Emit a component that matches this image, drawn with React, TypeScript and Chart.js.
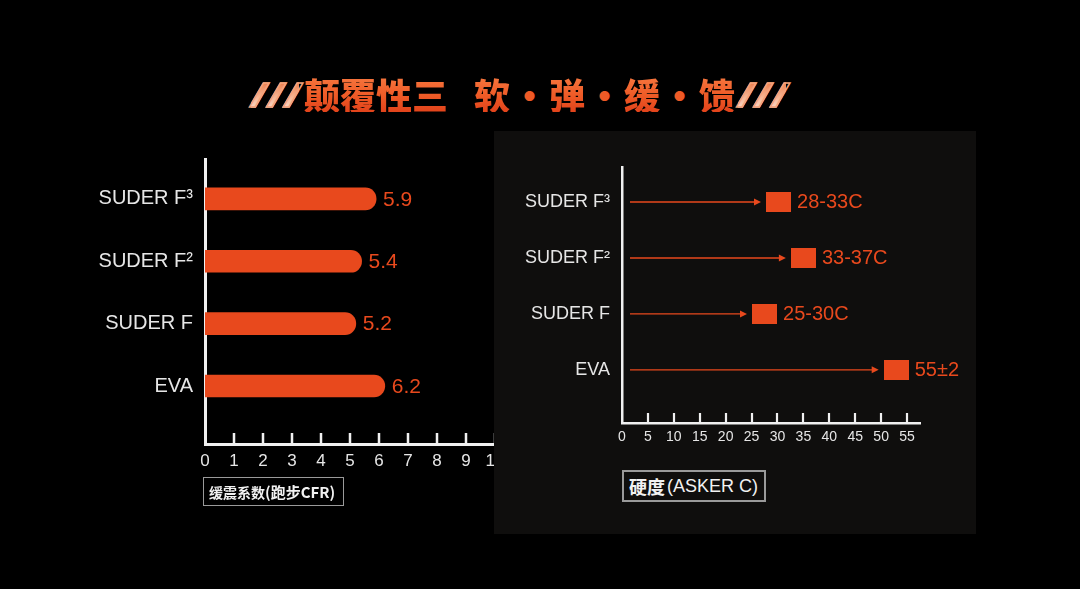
import React, { useEffect, useRef } from "react";
import { Chart, registerables } from "chart.js";

Chart.register(...registerables);

// ---------- data ----------
const cfrCategories = ["SUDER F³", "SUDER F²", "SUDER F", "EVA"];
const cfrValues = [5.9, 5.4, 5.2, 6.2];
const cfrTicks = [0, 1, 2, 3, 4, 5, 6, 7, 8, 9, 10];

const hardCategories = ["SUDER F³", "SUDER F²", "SUDER F", "EVA"];
const hardValues = [30.2, 35, 27.5, 52.9];
const hardLabels = ["28-33C", "33-37C", "25-30C", "55±2"];
const hardTicks = [0, 5, 10, 15, 20, 25, 30, 35, 40, 45, 50, 55];

const titleMain = "颠覆性三";
const titleWords = ["软", "弹", "缓", "馈"];
const leftAxisTitle = ["缓震系数", "(跑步CFR)"];
const rightAxisTitle = ["硬度", "(ASKER C)"];

// ---------- styles ----------
const ORANGE = "#e8491d";
const AXIS = "#f0f0f0";
const TEXT = "#e6e6e6";
const LATIN = "'Liberation Sans', Arial, sans-serif";
const CJK = "'Noto Sans CJK SC', 'Noto Sans', sans-serif";

const LEFT_TOP = 135;

function LeftChart() {
  const ref = useRef<HTMLCanvasElement | null>(null);
  useEffect(() => {
    const canvas = ref.current!;
    const W = 520, H = 380;
    const plugin = {
      id: "leftDeco",
      afterDatasetsDraw(chart: any) {
        const ctx = chart.ctx;
        const meta = chart.getDatasetMeta(0);
        ctx.save();
        ctx.fillStyle = ORANGE;
        ctx.font = `21px ${LATIN}`;
        ctx.textBaseline = "middle";
        ctx.textAlign = "left";
        meta.data.forEach((el: any, i: number) => {
          ctx.fillText(String(cfrValues[i]), el.x + 7, el.y + 1);
        });
        ctx.restore();
      },
      afterDraw(chart: any) {
        const ctx = chart.ctx;
        const xs = chart.scales.x;
        const bottom = chart.chartArea.bottom;
        ctx.save();
        ctx.strokeStyle = AXIS;
        ctx.lineWidth = 2.5;
        cfrTicks.forEach((v) => {
          if (v === 0) return;
          const px = Math.round(xs.getPixelForValue(v));
          ctx.beginPath();
          ctx.moveTo(px, bottom);
          ctx.lineTo(px, bottom - 11);
          ctx.stroke();
        });
        ctx.restore();
      },
    };
    const chart = new Chart(canvas, {
      type: "bar",
      data: {
        datasets: [
          {
            data: cfrValues.map((v, i) => ({ x: v, y: i })),
            backgroundColor: ORANGE,
            barThickness: 22,
            borderRadius: 11,
            borderSkipped: "start",
          } as any,
        ],
      },
      options: {
        indexAxis: "y",
        responsive: false,
        animation: false,
        events: [],
        layout: { padding: { top: 23, right: 25, left: 0, bottom: 0 } },
        plugins: { legend: { display: false }, tooltip: { enabled: false } },
        scales: {
          x: {
            type: "linear",
            min: 0,
            max: 10,
            offset: false,
            afterBuildTicks: (s: any) => {
              s.ticks = cfrTicks.map((v) => ({ value: v }));
            },
            afterFit: (s: any) => {
              s.height = H - (444 - LEFT_TOP);
            },
            grid: { display: false, drawTicks: false, offset: false },
            border: { display: true, color: AXIS, width: 3 },
            ticks: {
              color: TEXT,
              font: { family: LATIN, size: 17 },
              padding: 7,
              autoSkip: false,
              maxRotation: 0,
              callback: (v: any) => String(v),
            },
          },
          y: {
            type: "linear",
            reverse: true,
            offset: false,
            min: -0.64,
            max: 3.93,
            afterBuildTicks: (s: any) => {
              s.ticks = cfrCategories.map((_, i) => ({ value: i }));
            },
            afterFit: (s: any) => {
              s.width = 205;
            },
            grid: { display: false, drawTicks: false, offset: false },
            border: { display: true, color: AXIS, width: 3 },
            ticks: {
              color: TEXT,
              font: { family: LATIN, size: 20 },
              padding: 12,
              autoSkip: false,
              callback: (v: any) => cfrCategories[v] ?? "",
            },
          },
        },
      } as any,
      plugins: [plugin],
    });
    return () => chart.destroy();
  }, []);
  return (
    <canvas
      ref={ref}
      width={520}
      height={380}
      style={{ position: "absolute", left: 0, top: LEFT_TOP, width: 520, height: 380 }}
    />
  );
}

function RightChart() {
  const ref = useRef<HTMLCanvasElement | null>(null);
  useEffect(() => {
    const canvas = ref.current!;
    const W = 460, H = 320;
    const sq = document.createElement("canvas");
    sq.width = 25;
    sq.height = 20;
    const sctx = sq.getContext("2d")!;
    sctx.fillStyle = ORANGE;
    sctx.fillRect(0, 0, 25, 20);

    const plugin = {
      id: "rightDeco",
      beforeDatasetsDraw(chart: any) {
        const ctx = chart.ctx;
        const xs = chart.scales.x;
        const ys = chart.scales.y;
        ctx.save();
        ctx.strokeStyle = ORANGE;
        ctx.fillStyle = ORANGE;
        ctx.lineWidth = 1.4;
        hardValues.forEach((v, i) => {
          const y = ys.getPixelForValue(i);
          const x0 = xs.getPixelForValue(0) + 8;
          const tip = xs.getPixelForValue(v) - 12.5 - 5;
          ctx.beginPath();
          ctx.moveTo(x0, y);
          ctx.lineTo(tip - 6, y);
          ctx.stroke();
          ctx.beginPath();
          ctx.moveTo(tip, y);
          ctx.lineTo(tip - 7, y - 3.5);
          ctx.lineTo(tip - 7, y + 3.5);
          ctx.closePath();
          ctx.fill();
        });
        ctx.restore();
      },
      afterDatasetsDraw(chart: any) {
        const ctx = chart.ctx;
        const xs = chart.scales.x;
        const ys = chart.scales.y;
        ctx.save();
        ctx.fillStyle = ORANGE;
        ctx.font = `20px ${LATIN}`;
        ctx.textBaseline = "middle";
        ctx.textAlign = "left";
        hardValues.forEach((v, i) => {
          ctx.fillText(hardLabels[i], xs.getPixelForValue(v) + 12.5 + 6, ys.getPixelForValue(i) + 1);
        });
        ctx.restore();
      },
      afterDraw(chart: any) {
        const ctx = chart.ctx;
        const xs = chart.scales.x;
        const bottom = chart.chartArea.bottom;
        ctx.save();
        ctx.strokeStyle = AXIS;
        ctx.lineWidth = 2.2;
        hardTicks.forEach((v) => {
          if (v === 0) return;
          const px = Math.round(xs.getPixelForValue(v));
          ctx.beginPath();
          ctx.moveTo(px, bottom);
          ctx.lineTo(px, bottom - 10);
          ctx.stroke();
        });
        ctx.restore();
      },
    };

    const chart = new Chart(canvas, {
      type: "scatter",
      data: {
        datasets: [
          {
            data: hardValues.map((v, i) => ({ x: v, y: i })),
            pointStyle: sq,
            pointRadius: 10,
            showLine: false,
          } as any,
        ],
      },
      options: {
        responsive: false,
        animation: false,
        events: [],
        layout: { padding: { top: 27, right: 39, left: 0, bottom: 0 } },
        plugins: { legend: { display: false }, tooltip: { enabled: false } },
        scales: {
          x: {
            type: "linear",
            min: 0,
            max: 57.5,
            afterBuildTicks: (s: any) => {
              s.ticks = hardTicks.map((v) => ({ value: v }));
            },
            afterFit: (s: any) => {
              s.height = H - 283;
            },
            grid: { display: false, drawTicks: false },
            border: { display: true, color: AXIS, width: 2.5 },
            ticks: {
              color: TEXT,
              font: { family: LATIN, size: 14 },
              padding: 6,
              autoSkip: false,
              maxRotation: 0,
              callback: (v: any) => String(v),
            },
          },
          y: {
            type: "linear",
            reverse: true,
            min: -0.625,
            max: 3.95,
            afterBuildTicks: (s: any) => {
              s.ticks = hardCategories.map((_, i) => ({ value: i }));
            },
            afterFit: (s: any) => {
              s.width = 123;
            },
            grid: { display: false, drawTicks: false },
            border: { display: true, color: AXIS, width: 2.5 },
            ticks: {
              color: TEXT,
              font: { family: LATIN, size: 18 },
              padding: 12,
              autoSkip: false,
              callback: (v: any) => hardCategories[v] ?? "",
            },
          },
        },
      } as any,
      plugins: [plugin],
    });
    return () => chart.destroy();
  }, []);
  return (
    <canvas
      ref={ref}
      width={460}
      height={320}
      style={{ position: "absolute", left: 499, top: 140, width: 460, height: 320 }}
    />
  );
}

const gradText = (bg: string): React.CSSProperties => ({
  background: bg,
  WebkitBackgroundClip: "text",
  backgroundClip: "text",
  color: "transparent",
  WebkitTextFillColor: "transparent",
});

const TITLE_GRAD = "linear-gradient(180deg, #f6773f 0%, #ee5a26 55%, #e2431b 100%)";
const SLASH_GRAD = "linear-gradient(180deg, #e8662f 0%, #f6b08e 55%, #fde6da 100%)";

function Title() {
  const slash: React.CSSProperties = {
    display: "inline-block",
    width: 48,
    fontFamily: "'Noto Sans', sans-serif",
    fontWeight: 900,
    fontStyle: "italic",
    fontSize: 34,
    letterSpacing: 1,
    WebkitTextStroke: "1.5px #f3a27c",
    ...gradText(SLASH_GRAD),
  };
  const ch: React.CSSProperties = {
    display: "inline-block",
    width: 36,
    textAlign: "center",
    ...gradText(TITLE_GRAD),
  };
  const dot: React.CSSProperties = {
    display: "inline-block",
    width: 39,
    textAlign: "center",
    color: "#ee5a26",
  };
  return (
    <div
      style={{
        position: "absolute",
        left: 251,
        top: 76,
        height: 36,
        lineHeight: "36px",
        fontFamily: CJK,
        fontWeight: 900,
        fontSize: 36,
        whiteSpace: "nowrap",
        display: "flex",
        alignItems: "center",
      }}
    >
      <span style={{ ...slash, marginRight: 5 }}>///</span>
      <span style={{ display: "inline-block", width: 145, letterSpacing: 0, ...gradText(TITLE_GRAD) }}>
        {titleMain}
      </span>
      <span style={{ display: "inline-block", width: 25 }}> </span>
      {titleWords.map((w, i) => (
        <React.Fragment key={w}>
          {i > 0 && <span style={dot}>·</span>}
          <span style={ch}>{w}</span>
        </React.Fragment>
      ))}
      <span style={{ ...slash, marginLeft: 3 }}>///</span>
    </div>
  );
}

export default function App() {
  return (
    <div
      style={{
        position: "fixed",
        left: 0,
        top: 0,
        width: 1080,
        height: 589,
        background: "#000",
        overflow: "hidden",
      }}
    >
      <Title />
      <LeftChart />
      <div
        style={{
          position: "absolute",
          left: 494,
          top: 131,
          width: 482,
          height: 403,
          background: "#0f0e0d",
        }}
      />
      <RightChart />
      <div
        style={{
          position: "absolute",
          left: 203,
          top: 477,
          width: 141,
          height: 29,
          boxSizing: "border-box",
          border: "1.5px solid #9a9a9a",
          display: "flex",
          alignItems: "center",
          paddingLeft: 5,
          color: "#f2f2f2",
          fontFamily: CJK,
          fontWeight: 700,
          whiteSpace: "nowrap",
        }}
      >
        <span style={{ fontSize: 14 }}>{leftAxisTitle[0]}</span>
        <span style={{ fontSize: 15 }}>{leftAxisTitle[1]}</span>
      </div>
      <div
        style={{
          position: "absolute",
          left: 622,
          top: 470,
          width: 144,
          height: 32,
          boxSizing: "border-box",
          border: "2px solid #9a9a9a",
          display: "flex",
          alignItems: "center",
          paddingLeft: 5,
          color: "#f2f2f2",
          whiteSpace: "nowrap",
        }}
      >
        <span style={{ fontFamily: CJK, fontWeight: 700, fontSize: 18 }}>{rightAxisTitle[0]}</span>
        <span style={{ fontFamily: LATIN, fontSize: 18, marginLeft: 2 }}>{rightAxisTitle[1]}</span>
      </div>
    </div>
  );
}
